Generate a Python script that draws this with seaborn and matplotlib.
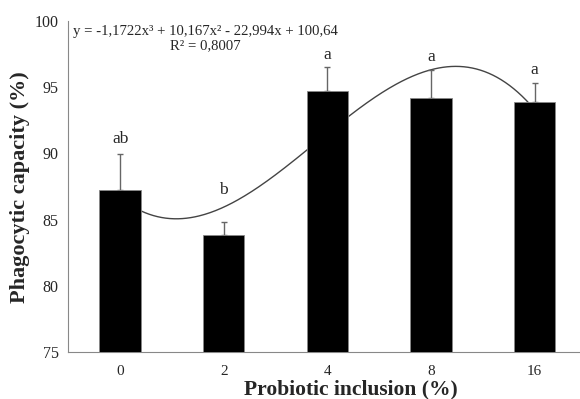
import numpy as np
import matplotlib
matplotlib.use("Agg")
import matplotlib.pyplot as plt
import seaborn as sns

categories = ["0", "2", "4", "8", "16"]
means = [87.2, 83.8, 94.7, 94.2, 93.9]
sd = [2.75, 1.0, 1.8, 2.1, 1.45]
letters = ["ab", "b", "a", "a", "a"]
letter_y = [91.1, 87.2, 97.4, 97.3, 96.3]
coefs = [-1.1722, 10.167, -22.994, 100.64]  # trendline y = a x^3 + b x^2 + c x + d, x = 1..5
equation = "y = -1,1722x³ + 10,167x² - 22,994x + 100,64"
r2_text = "R² = 0,8007"

sns.set_style("white")
plt.rcParams["font.family"] = ["Liberation Serif", "DejaVu Serif"]

fig = plt.figure(figsize=(5.8, 3.99), dpi=100)
ax = fig.add_axes([68.3 / 580, 1 - 352 / 399, 518 / 580, 331 / 399])

sns.barplot(x=categories, y=means, order=categories, color="black",
            width=0.4, errorbar=None, ax=ax, zorder=3, saturation=1)
for p in ax.patches:
    p.set_edgecolor("#888888")
    p.set_linewidth(0.6)

pos = np.arange(len(categories))
ax.errorbar(pos, means, yerr=[np.zeros(len(sd)), sd], fmt="none",
            ecolor="#666666", elinewidth=1.0, capsize=2.5, capthick=1.0, zorder=2)

xs = np.linspace(1, 5, 300)
ys = np.polyval(coefs, xs)
ax.plot(xs - 1, ys, color="#444444", lw=1.0, zorder=1)

for i, (lab, ly) in enumerate(zip(letters, letter_y)):
    ax.text(i, ly, lab, ha="center", va="center", fontsize=12.5)

ax.text(-0.455, 99.2, equation, ha="left", va="center", fontsize=10.6)
ax.text(0.484, 98.1, r2_text, ha="left", va="center", fontsize=10.6)

ax.set_xlim(-0.5, 4.5)
ax.set_ylim(75, 100)
ax.set_yticks([75, 80, 85, 90, 95, 100])
ax.set_xticks(pos)
ax.set_xticklabels(categories)
ax.set_xticks(np.arange(-0.5, 5, 1), minor=True)
ax.tick_params(axis="x", which="major", length=0, labelsize=11, pad=9.5)
ax.tick_params(axis="x", which="minor", length=5, color="#888888", width=0.8)
ax.tick_params(axis="y", length=5, color="#888888", width=0.8, labelsize=11.5, pad=2)

for s in ["top", "right"]:
    ax.spines[s].set_visible(False)
for s in ["left", "bottom"]:
    ax.spines[s].set_color("#888888")
    ax.spines[s].set_linewidth(0.8)

ax.set_xlabel("Probiotic inclusion (%)", fontsize=15.5, fontweight="bold")
ax.set_ylabel("Phagocytic capacity (%)", fontsize=16, fontweight="bold")
ax.xaxis.set_label_coords((351 - 68.3) / 518, -27 / 331)
ax.yaxis.set_label_coords(-38 / 518, (352 - 187) / 331)

fig.savefig("out.png", dpi=100)
